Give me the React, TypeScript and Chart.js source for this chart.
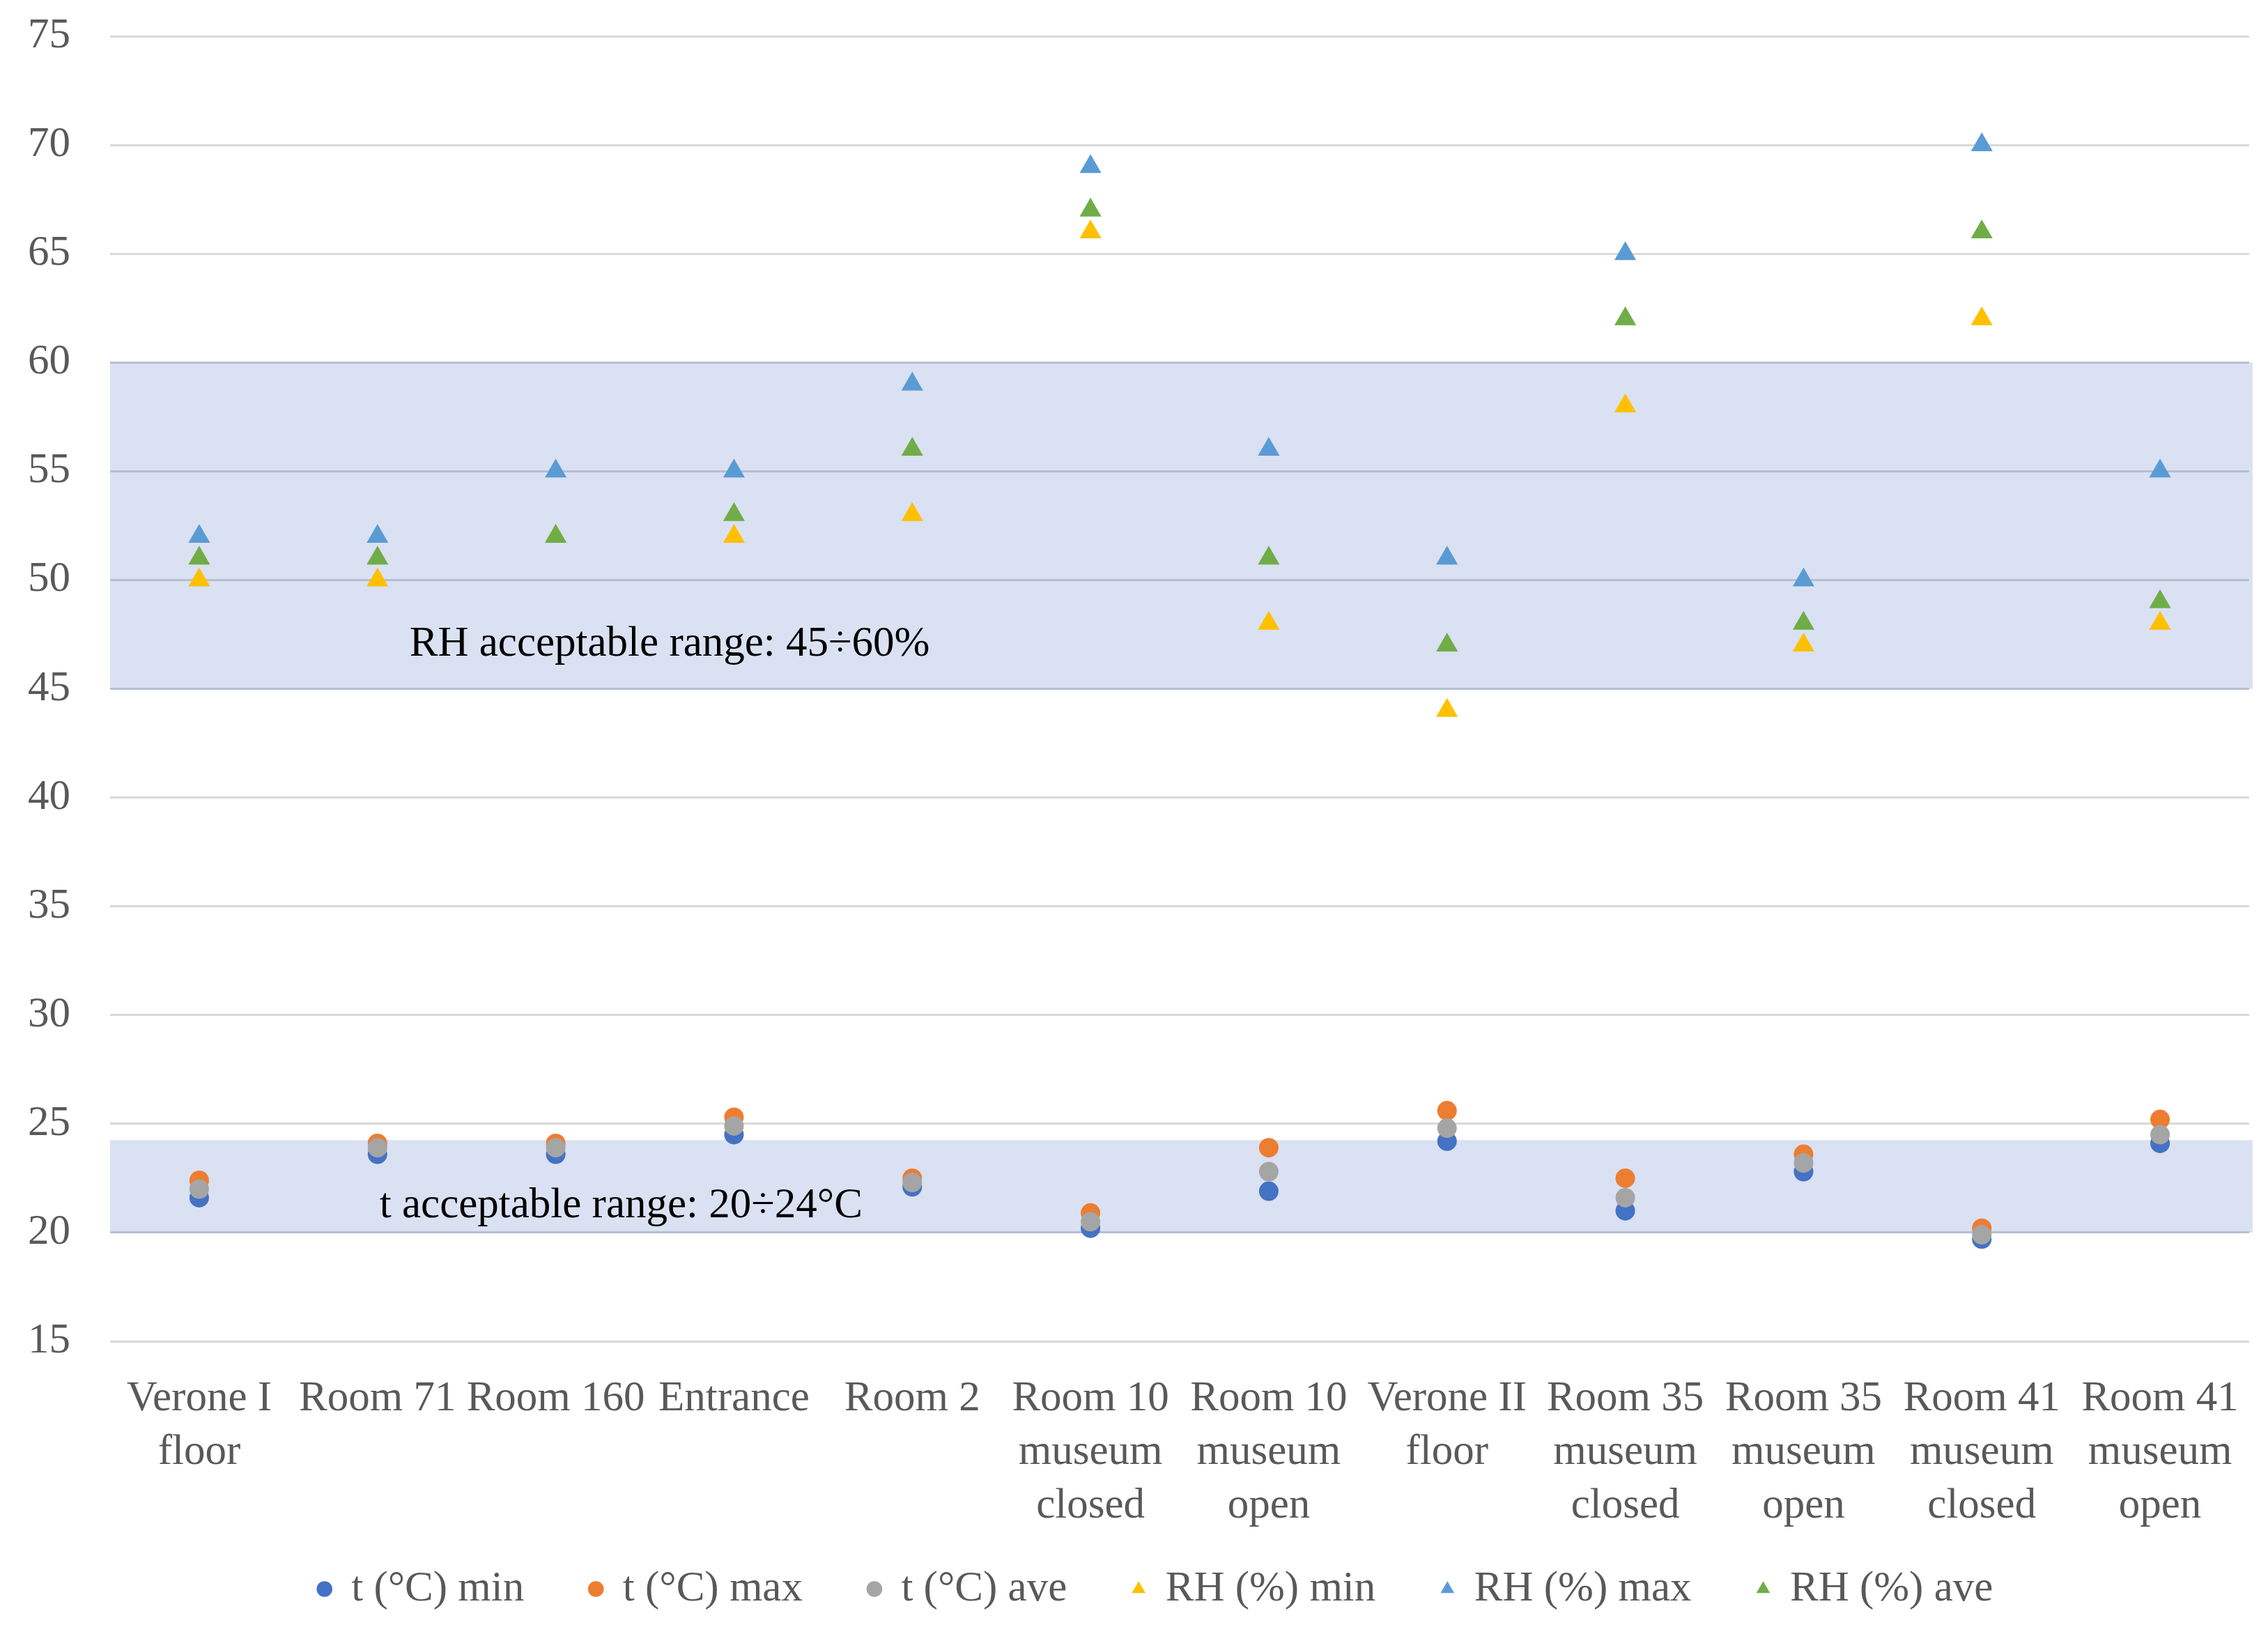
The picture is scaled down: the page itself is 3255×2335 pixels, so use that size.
import React, { useEffect, useRef } from "react";
import { Chart, registerables } from "chart.js";

Chart.register(...registerables);

// ---- data ----
const categories: string[][] = [
  ["Verone I", "floor"],
  ["Room 71"],
  ["Room 160"],
  ["Entrance"],
  ["Room 2"],
  ["Room 10", "museum", "closed"],
  ["Room 10", "museum", "open"],
  ["Verone II", "floor"],
  ["Room 35", "museum", "closed"],
  ["Room 35", "museum", "open"],
  ["Room 41", "museum", "closed"],
  ["Room 41", "museum", "open"],
];

const tMin = [21.6, 23.6, 23.6, 24.5, 22.1, 20.2, 21.9, 24.2, 21.0, 22.8, 19.7, 24.1];
const tMax = [22.4, 24.1, 24.1, 25.3, 22.5, 20.9, 23.9, 25.6, 22.5, 23.6, 20.2, 25.2];
const tAve = [22.0, 23.9, 23.9, 24.9, 22.3, 20.5, 22.8, 24.8, 21.6, 23.2, 19.9, 24.5];
const rhMin = [50, 50, 52, 52, 53, 66, 48, 44, 58, 47, 62, 48];
const rhMax = [52, 52, 55, 55, 59, 69, 56, 51, 65, 50, 70, 55];
const rhAve = [51, 51, 52, 53, 56, 67, 51, 47, 62, 48, 66, 49];

const seriesLabels = ["t (°C) min", "t (°C) max", "t (°C) ave", "RH (%) min", "RH (%) max", "RH (%) ave"];
const yMin = 15;
const yMax = 75;
const yStep = 5;
const rhRange = [45, 60];
const tRange = [20, 24.25];
const rhText = "RH acceptable range: 45÷60%";
const tText = "t acceptable range: 20÷24°C";

// ---- styles ----
const FONT = "'Liberation Serif', 'Times New Roman', serif";
const FONT_SIZE = 61;
const GRAY_TEXT = "#595959";
const BAND = "#DAE1F2";
const GRID = "#D9D9D9";
const GRID_IN_BAND = "#B6BFCF";
const LEGEND_PAD = 95;
const LEGEND_SHIFT = 45;

const bandPlugin = {
  id: "bands",
  beforeDraw(chart: any) {
    const { ctx, chartArea, scales } = chart;
    const y = scales.y;
    ctx.save();
    ctx.fillStyle = BAND;
    for (const [lo, hi] of [rhRange, tRange]) {
      const top = y.getPixelForValue(hi);
      const bottom = y.getPixelForValue(lo);
      ctx.fillRect(chartArea.left, top, chartArea.right + 5 - chartArea.left, bottom - top);
    }
    ctx.restore();
  },
  afterLayout(chart: any) {
    if (chart.legend) {
      chart.legend.left += LEGEND_SHIFT;
      chart.legend.right += LEGEND_SHIFT;
    }
  },
  afterDatasetsDraw(chart: any) {
    const { ctx, chartArea, scales } = chart;
    const y = scales.y;
    const w = chartArea.right - chartArea.left;
    ctx.save();
    ctx.fillStyle = "#000000";
    ctx.font = `61px ${FONT}`;
    ctx.textAlign = "left";
    ctx.textBaseline = "middle";
    ctx.fillText(rhText, chartArea.left + w * 0.14, y.getPixelForValue(47.05));
    ctx.fillText(tText, chartArea.left + w * 0.126, y.getPixelForValue(21.2));
    ctx.restore();
  },
};

function inBand(v: number) {
  return (v >= rhRange[0] && v <= rhRange[1]) || (v >= tRange[0] && v <= tRange[1]);
}

export default function App() {
  const ref = useRef<HTMLCanvasElement>(null);

  useEffect(() => {
    if (!ref.current) return;
    const mk = (label: string, data: number[], color: string, style: string, order: number) => ({
      label,
      data,
      backgroundColor: color,
      borderColor: color,
      pointBackgroundColor: color,
      pointBorderColor: color,
      pointBorderWidth: 0,
      pointStyle: style,
      pointRadius: style === "circle" ? 14 : 18,
      pointHoverRadius: style === "circle" ? 14 : 18,
      showLine: false,
      order,
    });
    const chart = new Chart(ref.current, {
      type: "line",
      data: {
        labels: categories,
        datasets: [
          mk(seriesLabels[0], tMin, "#4472C4", "circle", 6),
          mk(seriesLabels[1], tMax, "#ED7D31", "circle", 5),
          mk(seriesLabels[2], tAve, "#A5A5A5", "circle", 4),
          mk(seriesLabels[3], rhMin, "#FFC000", "triangle", 3),
          mk(seriesLabels[4], rhMax, "#5B9BD5", "triangle", 2),
          mk(seriesLabels[5], rhAve, "#70AD47", "triangle", 1),
        ] as any,
      },
      options: {
        animation: false,
        responsive: false,
        devicePixelRatio: 1,
        layout: { padding: { left: 0, right: 27, top: 52, bottom: 14 } },
        plugins: {
          tooltip: { enabled: false },
          legend: {
            position: "bottom",
            labels: {
              usePointStyle: true,
              boxWidth: 16,
              boxHeight: 16,
              padding: LEGEND_PAD,
              color: GRAY_TEXT,
              font: { family: FONT, size: FONT_SIZE },
              sort: (a: any, b: any) => a.datasetIndex - b.datasetIndex,
            },
          },
        },
        scales: {
          x: {
            type: "category",
            offset: true,
            grid: { display: false, drawTicks: false },
            border: { display: false },
            ticks: {
              autoSkip: false,
              maxRotation: 0,
              minRotation: 0,
              mirror: true,
              padding: -121.5,
              color: GRAY_TEXT,
              font: { family: FONT, size: FONT_SIZE, lineHeight: 77 / FONT_SIZE },
            },
            afterFit: (scale: any) => {
              scale.height = 2335 - 14 - (FONT_SIZE + LEGEND_PAD + 10) - 1925;
            },
          },
          y: {
            min: yMin,
            max: yMax,
            border: { display: false },
            grid: {
              drawTicks: false,
              lineWidth: 3,
              color: (ctx: any) => (ctx.tick && inBand(ctx.tick.value) ? GRID_IN_BAND : GRID),
            },
            ticks: {
              stepSize: yStep,
              padding: 57,
              color: GRAY_TEXT,
              font: { family: FONT, size: FONT_SIZE },
            },
            afterFit: (scale: any) => {
              scale.width = 158;
              scale.paddingTop = 0;
              scale.paddingBottom = 0;
            },
          },
        },
      },
      plugins: [bandPlugin],
    } as any);
    return () => chart.destroy();
  }, []);

  return (
    <div style={{ position: "fixed", left: 0, top: 0, width: 3255, height: 2335, background: "#ffffff" }}>
      <canvas ref={ref} width={3255} height={2335} style={{ display: "block", width: 3255, height: 2335 }} />
    </div>
  );
}
